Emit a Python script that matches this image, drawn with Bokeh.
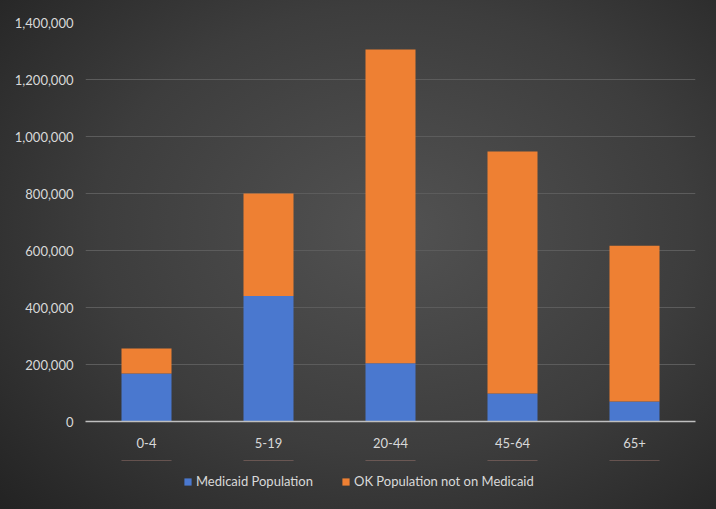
from bokeh.plotting import figure
from bokeh.layouts import column
from bokeh.models import FactorRange, Range1d, FixedTicker, NumeralTickFormatter, Legend, LegendItem, ColumnDataSource
from bokeh.embed import file_html
from bokeh.resources import INLINE

age_groups = ["0-4", "5-19", "20-44", "45-64", "65+"]
medicaid = [168000, 440000, 204000, 98000, 70000]
not_medicaid = [88000, 360000, 1101000, 849000, 547000]
series_names = ["Medicaid Population", "OK Population not on Medicaid"]
colors = ["#4a78cf", "#ee8033"]
y_ticks = [0, 200000, 400000, 600000, 800000, 1000000, 1200000, 1400000]

src = ColumnDataSource(dict(group=age_groups, medicaid=medicaid, not_medicaid=not_medicaid))

p = figure(x_range=FactorRange(*age_groups), y_range=Range1d(0, 1400000),
           width=716, height=460, output_backend="svg", toolbar_location=None,
           min_border_left=85, min_border_right=21, min_border_top=22, min_border_bottom=39)

p.background_fill_alpha = 0
p.border_fill_alpha = 0
p.outline_line_color = None

renderers = p.vbar_stack(["medicaid", "not_medicaid"], x="group", width=0.41, source=src,
                         color=colors, line_color=None)

txt = "#d9d9d9"
p.yaxis.ticker = FixedTicker(ticks=y_ticks)
p.yaxis.formatter = NumeralTickFormatter(format="0,0")
p.yaxis.axis_line_color = None
p.yaxis.major_tick_line_color = None
p.yaxis.minor_tick_line_color = None
p.yaxis.major_tick_out = 0
p.yaxis.major_label_text_color = txt
p.yaxis.major_label_text_font = "Lato"
p.yaxis.major_label_text_font_size = "13px"
p.yaxis.major_label_standoff = 12

p.xaxis.axis_line_color = "#bfbfbf"
p.xaxis.axis_line_width = 1.5
p.xaxis.major_tick_line_color = None
p.xaxis.minor_tick_line_color = None
p.xaxis.major_tick_out = 0
p.xaxis.major_label_text_color = txt
p.xaxis.major_label_text_font = "Lato"
p.xaxis.major_label_text_font_size = "13px"
p.xaxis.major_label_standoff = 16

p.xgrid.grid_line_color = None
p.ygrid.grid_line_color = "#5c5c5c"
p.ygrid.grid_line_width = 1

# legend strip: same series drawn off-range so only the legend is visible
lg = figure(width=716, height=49, output_backend="svg", toolbar_location=None,
            x_range=p.x_range, y_range=Range1d(-2800000, -1400000),
            x_axis_location=None, y_axis_location=None,
            min_border_left=85, min_border_right=21, min_border_top=0, min_border_bottom=0)
lg.grid.grid_line_color = None
lg.outline_line_color = None
lg.background_fill_alpha = 0
lg.border_fill_alpha = 0
lg_renderers = lg.vbar_stack(["medicaid", "not_medicaid"], x="group", width=0.41, source=src,
                             color=colors, line_color=None)

legend = Legend(items=[LegendItem(label=series_names[0], renderers=[lg_renderers[0]]),
                       LegendItem(label=series_names[1], renderers=[lg_renderers[1]])],
                orientation="horizontal", location=(98, 20))
legend.background_fill_alpha = 0
legend.border_line_color = None
legend.label_text_color = txt
legend.label_text_font = "Lato"
legend.label_text_font_size = "13px"
legend.glyph_width = 9
legend.glyph_height = 9
legend.label_standoff = 4
legend.spacing = 28
legend.padding = 0
legend.margin = 0
lg.add_layout(legend, "center")

layout = column(p, lg, spacing=0)
layout.styles = {"background": "radial-gradient(ellipse 75% 80% at 55% 45%, #525252 0%, #3d3d3d 55%, #232323 100%)"}

open("out.html", "w").write(file_html(layout, INLINE))
